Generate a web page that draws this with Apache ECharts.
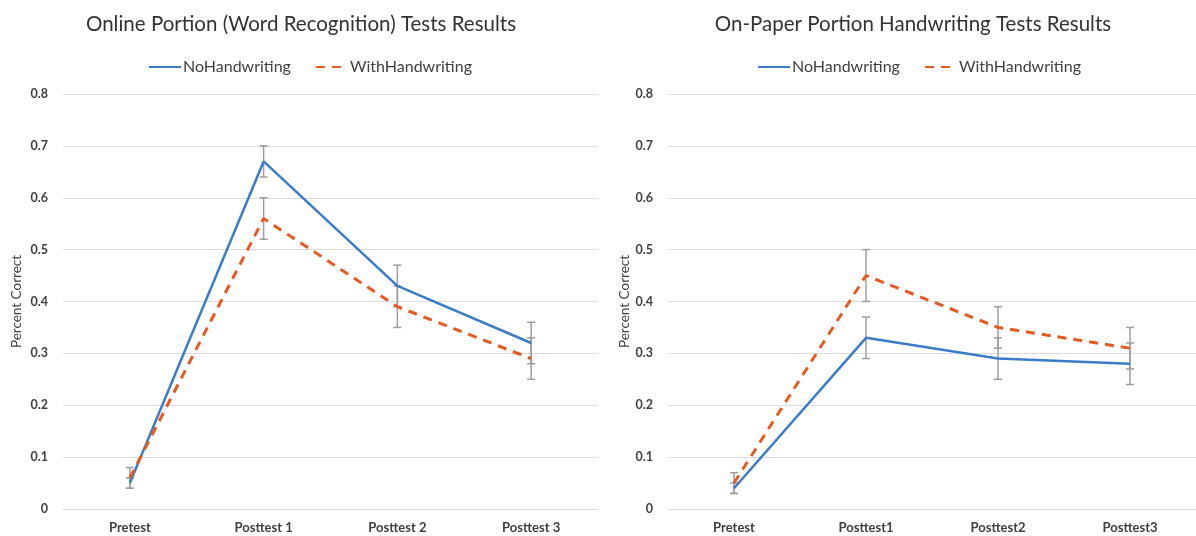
<!DOCTYPE html>
<html>
<head>
<meta charset="utf-8">
<script src="https://cdn.jsdelivr.net/npm/echarts@6/dist/echarts.min.js"></script>
<style>
html,body{margin:0;padding:0;background:#fff;}
#c{width:1196px;height:536px;}
</style>
</head>
<body>
<div id="c"></div>
<script>
// ---- data ----
var catsOnline = ['Pretest', 'Posttest 1', 'Posttest 2', 'Posttest 3'];
var catsPaper = ['Pretest', 'Posttest1', 'Posttest2', 'Posttest3'];
var yTicks = [0, 0.1, 0.2, 0.3, 0.4, 0.5, 0.6, 0.7, 0.8];

var onlineNo = [0.05, 0.67, 0.43, 0.32];
var onlineNoErr = [0.01, 0.03, 0.04, 0.04];
var onlineWith = [0.06, 0.56, 0.39, 0.29];
var onlineWithErr = [0.02, 0.04, 0.04, 0.04];

var paperNo = [0.04, 0.33, 0.29, 0.28];
var paperNoErr = [0.01, 0.04, 0.04, 0.04];
var paperWith = [0.05, 0.45, 0.35, 0.31];
var paperWithErr = [0.02, 0.05, 0.04, 0.04];

var titles = ['Online Portion (Word Recognition) Tests Results', 'On-Paper Portion Handwriting Tests Results'];
var seriesNames = ['NoHandwriting', 'WithHandwriting'];
var yName = 'Percent Correct';

// ---- style ----
var BLUE = '#3a7cc8';
var ORANGE = '#e9591f';
var ERR = '#9e9e9e';
var FONT = 'Lato, "Open Sans", sans-serif';
var TXT = '#404040';

function errData(vals, errs) {
  return vals.map(function (v, i) { return [i, v - errs[i], v + errs[i]]; });
}

function errSeries(idx, vals, errs) {
  return {
    type: 'custom',
    xAxisIndex: idx, yAxisIndex: idx,
    z: 1,
    silent: true,
    data: errData(vals, errs),
    renderItem: function (params, api) {
      var x = api.value(0);
      var lo = api.coord([x, api.value(1)]);
      var hi = api.coord([x, api.value(2)]);
      var w = 4;
      var st = { stroke: ERR, lineWidth: 1.5 };
      return {
        type: 'group',
        children: [
          { type: 'line', shape: { x1: lo[0], y1: lo[1], x2: hi[0], y2: hi[1] }, style: st },
          { type: 'line', shape: { x1: lo[0] - w, y1: lo[1], x2: lo[0] + w, y2: lo[1] }, style: st },
          { type: 'line', shape: { x1: hi[0] - w, y1: hi[1], x2: hi[0] + w, y2: hi[1] }, style: st }
        ]
      };
    }
  };
}

function lineSeries(idx, name, vals, color, dashed) {
  return {
    type: 'line', name: name,
    xAxisIndex: idx, yAxisIndex: idx,
    z: 3,
    symbol: 'none',
    data: vals,
    lineStyle: { color: color, width: dashed ? 3 : 2.5, type: dashed ? [9, 7] : 'solid' },
    itemStyle: { color: color },
    animation: false
  };
}

var grids = [
  { left: 63, top: 94, width: 535, height: 415 },
  { left: 668, top: 94, width: 542, height: 415 }
];

function xAxis(idx, cats) {
  return {
    type: 'category', gridIndex: idx, data: cats,
    boundaryGap: true,
    axisLine: { show: true, lineStyle: { color: '#d9d9d9', width: 1 } },
    axisTick: { show: false },
    axisLabel: { color: TXT, fontFamily: FONT, fontSize: 13, fontWeight: 'bold', margin: 12 }
  };
}
function yAxis(idx, gap) {
  return {
    type: 'value', gridIndex: idx, min: 0, max: 0.8, interval: 0.1,
    name: yName, nameLocation: 'middle', nameGap: gap, nameRotate: 90,
    nameTextStyle: { color: TXT, fontFamily: FONT, fontSize: 13.5 },
    axisLine: { show: false }, axisTick: { show: false },
    splitLine: { lineStyle: { color: '#dcdcdc', width: 1 } },
    axisLabel: {
      color: TXT, fontFamily: FONT, fontSize: 12.5, fontWeight: 'bold', margin: 15,
      formatter: function (v) { var r = Math.round(v * 10) / 10; return yTicks.indexOf(r) >= 0 ? String(r) : ''; }
    }
  };
}

function legend(idxs, left) {
  return {
    seriesIndex: idxs, data: seriesNames, left: left, top: 54,
    itemWidth: 32, itemHeight: 14, itemGap: 24,
    itemStyle: { opacity: 0 },
    textStyle: { fontFamily: FONT, fontSize: 16, color: TXT, padding: [0, 0, 0, -3] }
  };
}

var chart = echarts.init(document.getElementById('c'), null, { renderer: 'canvas' });
chart.setOption({
  animation: false,
  backgroundColor: '#fff',
  title: [
    { text: titles[0], left: 296, top: 9, textAlign: 'center',
      textStyle: { fontFamily: FONT, fontSize: 20.5, fontWeight: 'normal', color: '#333' } },
    { text: titles[1], left: 908, top: 9, textAlign: 'center',
      textStyle: { fontFamily: FONT, fontSize: 20.5, fontWeight: 'normal', color: '#333' } }
  ],
  legend: [legend([0, 1], 143), legend([4, 5], 752)],
  grid: grids,
  xAxis: [xAxis(0, catsOnline), xAxis(1, catsPaper)],
  yAxis: [yAxis(0, 39), yAxis(1, 33)],
  series: [
    lineSeries(0, seriesNames[0], onlineNo, BLUE, false),
    lineSeries(0, seriesNames[1], onlineWith, ORANGE, true),
    errSeries(0, onlineNo, onlineNoErr),
    errSeries(0, onlineWith, onlineWithErr),
    lineSeries(1, seriesNames[0], paperNo, BLUE, false),
    lineSeries(1, seriesNames[1], paperWith, ORANGE, true),
    errSeries(1, paperNo, paperNoErr),
    errSeries(1, paperWith, paperWithErr)
  ]
});
</script>
</body>
</html>
